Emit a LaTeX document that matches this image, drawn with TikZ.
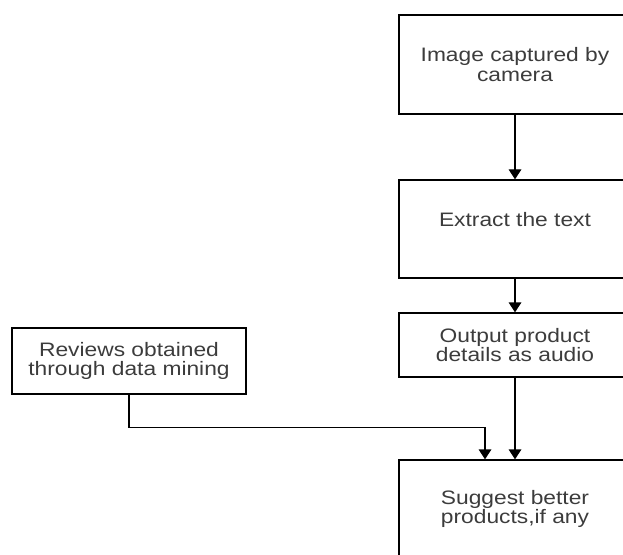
\documentclass[tikz,border=0pt]{standalone}
\usepackage{fontspec}
\setmainfont[FakeStretch=1.17]{Liberation Sans}
\usetikzlibrary{arrows.meta}
\definecolor{txt}{HTML}{3C3C3C}
\begin{document}
\begin{tikzpicture}[x=0.75pt,y=-0.75pt,
  box/.style={draw=black, line width=1pt, inner sep=0pt, align=center,
    text=txt, font=\fontsize{14.6pt}{14.5pt}\selectfont},
  arr/.style={draw=black, line width=1pt, -{Triangle[width=9.5pt,length=7.5pt]}}]
\useasboundingbox (0,0) rectangle (623,555);
\clip (0,0) rectangle (623,555);
\node[box, minimum width=174pt, minimum height=74.25pt] (cam) at (515,64.5) {Image captured by\\camera};
\node[box, minimum width=174pt, minimum height=73.5pt] (ext) at (515,229) {Extract the text\\~};
\node[box, minimum width=174pt, minimum height=48pt] (out) at (515,345) {Output product\\details as audio};
\node[box, minimum width=174pt, minimum height=73.5pt] (sug) at (515,509) {Suggest better\\products,if any};
\node[box, minimum width=175.5pt, minimum height=49.5pt] (rev) at (129,361) {Reviews obtained\\through data mining};
\draw[arr] (cam.south) -- (ext.north);
\draw[arr] (ext.south) -- (out.north);
\draw[arr] (out.south) -- (sug.north);
\draw[arr] (rev.south) -- ++(0,33) -| ([xshift=-22.5pt]sug.north);
\end{tikzpicture}
\end{document}
